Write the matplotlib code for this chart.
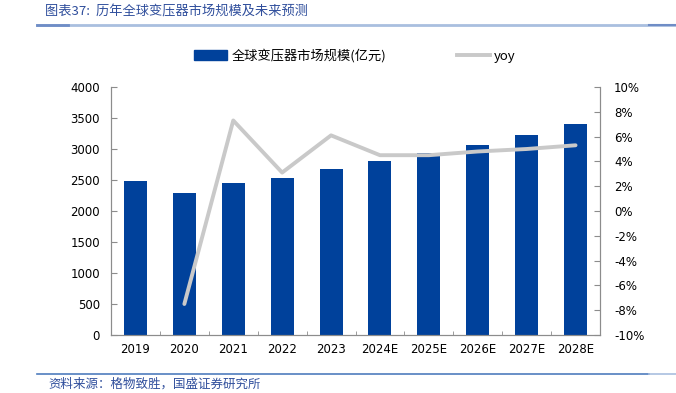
import matplotlib
matplotlib.use("Agg")
import matplotlib.pyplot as plt
from matplotlib.lines import Line2D
from matplotlib.patches import Patch
from matplotlib.ticker import FuncFormatter, MultipleLocator, FixedLocator

plt.rcParams['font.family'] = ['Noto Sans CJK SC', 'DejaVu Sans']

years = ['2019', '2020', '2021', '2022', '2023', '2024E', '2025E', '2026E', '2027E', '2028E']
market_size = [2478, 2290, 2458, 2532, 2684, 2807, 2931, 3071, 3226, 3399]
yoy = [None, -7.5, 7.3, 3.1, 6.1, 4.5, 4.5, 4.8, 5.0, 5.3]

bar_color = '#00419B'
line_color = '#C9C9C9'
axis_color = '#8C8C8C'

fig = plt.figure(figsize=(6.76, 3.93), dpi=100)
ax = fig.add_axes([111 / 676, 58 / 393, 489 / 676, 248 / 393])
ax2 = ax.twinx()

x = list(range(len(years)))
ax.bar(x, market_size, width=0.47, color=bar_color, zorder=2)

yx = [i for i, v in zip(x, yoy) if v is not None]
yv = [v for v in yoy if v is not None]
ax2.plot(yx, yv, color=line_color, lw=2.8, solid_capstyle='round', zorder=3)

ax.set_xlim(-0.5, len(years) - 0.5)
ax.set_ylim(0, 4000)
ax.yaxis.set_major_locator(MultipleLocator(500))
ax2.set_ylim(-10, 10)
ax2.yaxis.set_major_locator(MultipleLocator(2))
ax2.yaxis.set_major_formatter(FuncFormatter(lambda v, p: f'{v:.0f}%'))

ax.set_xticks(x)
ax.set_xticklabels(years)
ax.xaxis.set_minor_locator(FixedLocator([i + 0.5 for i in x[:-1]]))

for a in (ax, ax2):
    a.spines['top'].set_visible(False)
    for s in ('left', 'right', 'bottom'):
        a.spines[s].set_color(axis_color)
        a.spines[s].set_linewidth(0.8)
    a.set_facecolor('none')

ax.tick_params(axis='y', direction='in', length=4, color=axis_color, labelsize=8.5,
               labelcolor='black', pad=8, labelfontfamily='DejaVu Sans')
ax.tick_params(axis='x', which='major', length=0, labelsize=8.5, pad=6,
               labelfontfamily='DejaVu Sans')
ax.tick_params(axis='x', which='minor', direction='in', length=3, color=axis_color)
ax2.tick_params(axis='y', direction='in', length=4, color=axis_color, labelsize=8.5,
                labelcolor='black', pad=10, labelfontfamily='DejaVu Sans')
for lbl in ax2.get_yticklabels():
    lbl.set_horizontalalignment('left')

ax2.set_zorder(ax.get_zorder() + 1)

handles = [Patch(color=bar_color), Line2D([0], [0], color=line_color, lw=2.8)]
leg = fig.legend(handles, ['全球变压器市场规模(亿元)', 'yoy'], loc='center',
                 bbox_to_anchor=(355 / 676, 1 - 56 / 393), ncol=2, frameon=False,
                 fontsize=9.5, handlelength=2.5, handleheight=0.8, handletextpad=0.3,
                 columnspacing=5.4)

# header / footer decoration
title_color = '#2F4E9C'
fig.text(45 / 676, 1 - 12 / 393, '图表37:  历年全球变压器市场规模及未来预测', fontsize=9.5,
         color=title_color, style='italic', va='center', ha='left')
fig.add_artist(Line2D([37 / 676, 1], [1 - 24.5 / 393] * 2, color='#A9BFDF', lw=2))
fig.add_artist(Line2D([37 / 676, 68 / 676], [1 - 24.5 / 393] * 2, color='#6F8DC6', lw=2))
fig.add_artist(Line2D([649 / 676, 1], [1 - 25 / 393] * 2, color='#6F8DC6', lw=1.5))

fig.add_artist(Line2D([37 / 676, 649 / 676], [1 - 374 / 393] * 2, color='#4F7DBD', lw=1.2))
fig.add_artist(Line2D([649 / 676, 1], [1 - 373.5 / 393] * 2, color='#A9BFDF', lw=1.2))
fig.text(48 / 676, 1 - 384 / 393, '资料来源：格物致胜，国盛证券研究所', fontsize=9,
         color=title_color, style='italic', va='center', ha='left')

fig.savefig('out.png', dpi=100)
